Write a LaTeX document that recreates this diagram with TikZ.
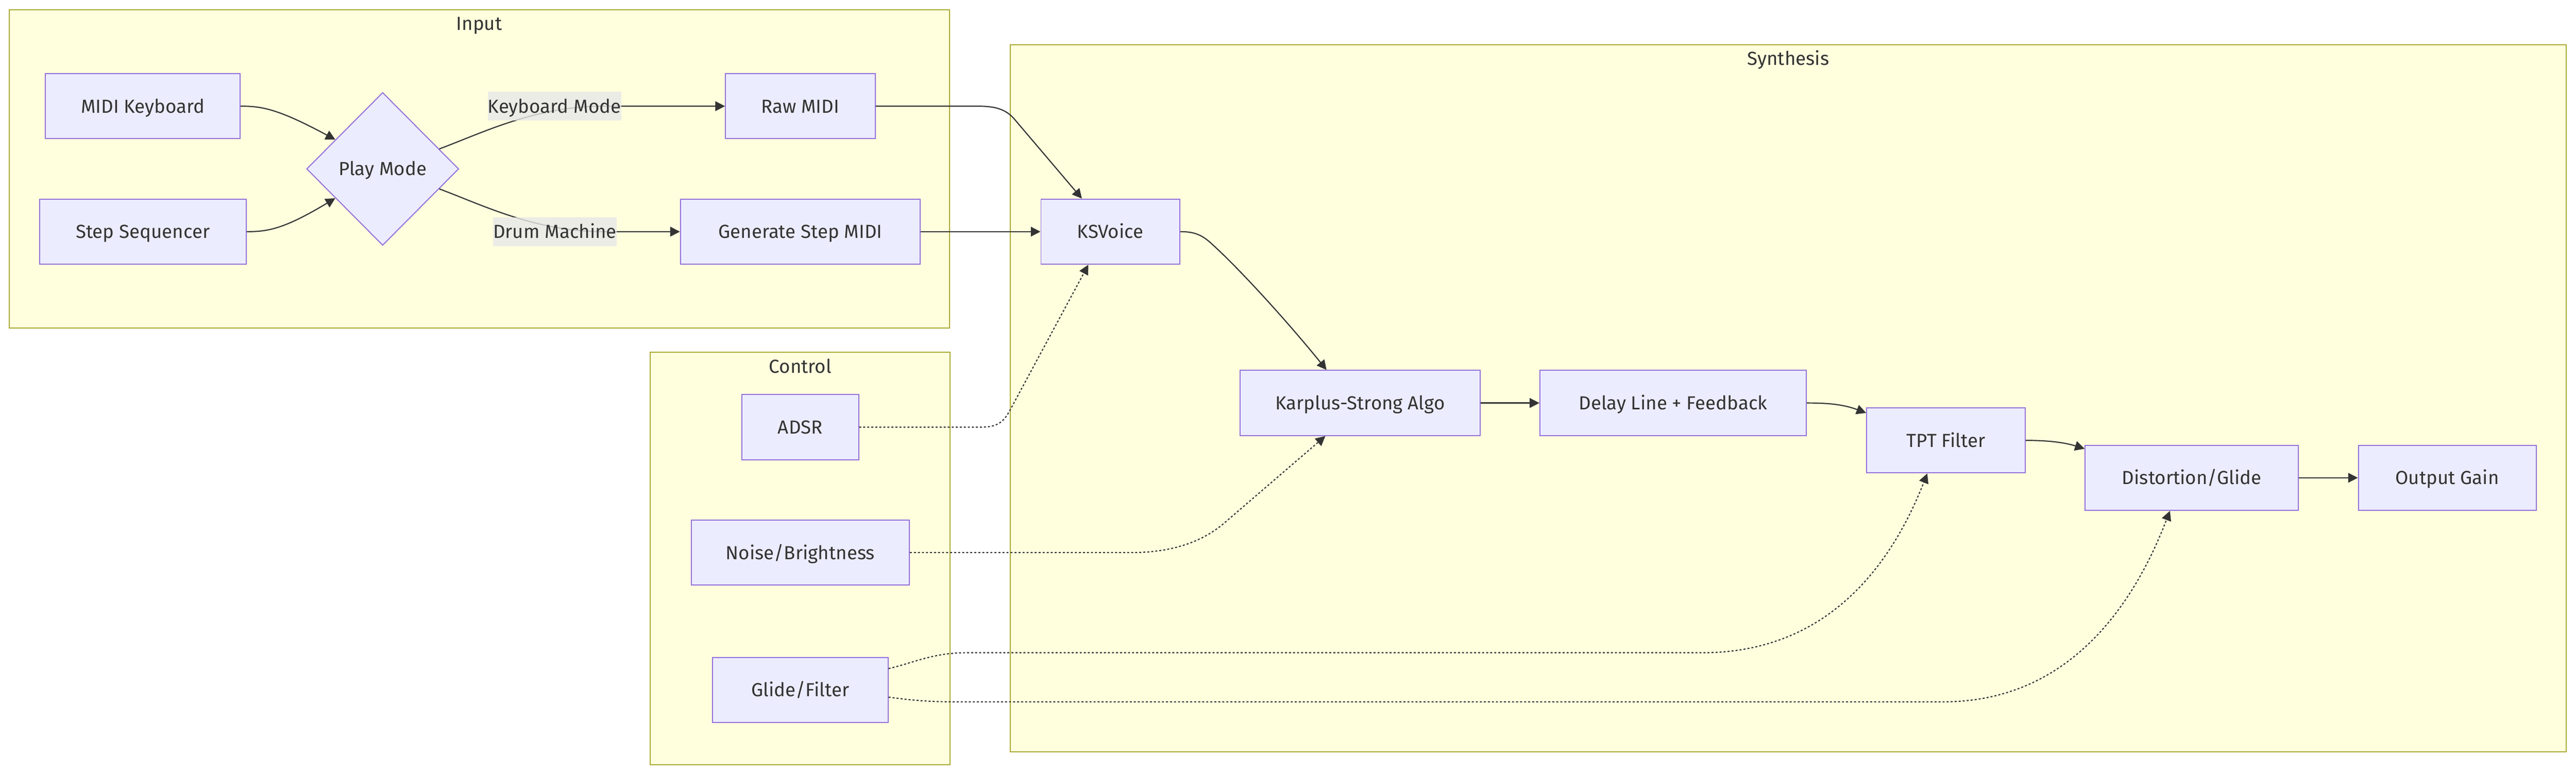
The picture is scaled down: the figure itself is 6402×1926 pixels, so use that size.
\documentclass[tikz,border=0pt]{standalone}
\usepackage{fontspec}
\setmainfont{Fira Sans}
\usetikzlibrary{shapes.geometric,arrows.meta,calc}
\definecolor{nodefill}{HTML}{ECECFF}
\definecolor{nodedraw}{HTML}{9370DB}
\definecolor{clfill}{HTML}{FFFFDE}
\definecolor{cldraw}{HTML}{AAAA33}
\definecolor{edgec}{HTML}{333333}
\definecolor{lblfill}{HTML}{E8E8E8}
\begin{document}
\begin{tikzpicture}[x=1pt,y=-1pt,
  every node/.style={font=\fontsize{47}{56}\selectfont, text=edgec},
  cluster/.style={draw=cldraw, fill=clfill, line width=2.5pt, inner sep=0pt},
  box/.style={draw=nodedraw, fill=nodefill, line width=2.5pt, minimum height=162pt, inner sep=0pt, text height=40pt, text depth=7pt},
  dec/.style={shape=diamond, draw=nodedraw, fill=nodefill, line width=2.5pt, minimum width=378pt, minimum height=380pt, inner sep=0pt, aspect=1, text height=40pt, text depth=7pt},
  lbl/.style={fill=lblfill, fill opacity=0.8, text opacity=1, inner sep=0pt, minimum height=71pt, text height=40pt, text depth=7pt},
  title/.style={anchor=base},
  flow/.style={draw=edgec, line width=2.8pt, -{Triangle[length=24pt,width=24pt]}},
  ctrl/.style={flow, line width=2.8pt, dash pattern=on 5pt off 5pt},
]
\useasboundingbox (0,0) rectangle (6402,1926);
\fill[white] (0,0) rectangle (6402,1926);

% clusters
\node[cluster, minimum width=2337pt, minimum height=792pt] (cin) at (1191.5,420) {};
\node[cluster, minimum width=745pt, minimum height=1025pt] (cctl) at (1988.5,1388.5) {};
\node[cluster, minimum width=3867pt, minimum height=1758pt] (csyn) at (4444.5,990) {};
\node[title] (tin) at (1191,75) {Input};
\node[title] (tctl) at (1989,928) {Control};
\node[title] (tsyn) at (4444,162) {Synthesis};

% input nodes
\node[box, minimum width=484pt] (mk) at (355,264) {MIDI Keyboard};
\node[box, minimum width=514pt] (ss) at (355,576) {Step Sequencer};
\node[dec] (pm) at (951,420) {Play Mode};
\node[box, minimum width=372pt] (rm) at (1989,264) {Raw MIDI};
\node[box, minimum width=596pt] (gs) at (1989,576) {Generate Step MIDI};

% control nodes
\node[box, minimum width=290pt] (adsr) at (1989,1062) {ADSR};
\node[box, minimum width=542pt] (nb) at (1989,1374) {Noise/Brightness};
\node[box, minimum width=436pt] (gf) at (1989,1715.5) {Glide/Filter};

% synthesis nodes
\node[box, minimum width=345pt] (ks) at (2759.5,576) {KSVoice};
\node[box, minimum width=596pt] (kp) at (3380,1002) {Karplus-Strong Algo};
\node[box, minimum width=662pt] (dl) at (4158,1002) {Delay Line + Feedback};
\node[box, minimum width=394pt] (tpt) at (4836,1095) {TPT Filter};
\node[box, minimum width=530pt] (dg) at (5447,1188) {Distortion/Glide};
\node[box, minimum width=442pt] (og) at (6082,1188) {Output Gain};

% diamond attachment points
\coordinate (pmA) at ($(pm.west)!0.381!(pm.north)$);
\coordinate (pmB) at ($(pm.west)!0.381!(pm.south)$);
\coordinate (pmC) at ($(pm.east)!0.26!(pm.north)$);
\coordinate (pmD) at ($(pm.east)!0.26!(pm.south)$);

% solid edges
\draw[flow] (mk.east) .. controls (650,264) and (690,270) .. (pmA);
\draw[flow] (ss.east) .. controls (665,576) and (705,570) .. (pmB);
\draw[flow] (pmC) .. controls (1200,330) and (1330,264) .. (1500,264) -- (rm.west);
\draw[flow] (pmD) .. controls (1200,510) and (1330,576) .. (1500,576) -- (gs.west);
\draw[flow] (rm.east) -- (2430,264) .. controls (2470,264) and (2498,270) .. (2520,295) -- ($(ks.north west)+(103,0)$);
\draw[flow] (gs.east) -- (ks.west);
\draw[flow] (ks.east) .. controls (2965,576) and (2985,582) .. (3010,605) .. controls (3080,668) and (3200,800) .. ($(kp.north west)+(216,0)$);
\draw[flow] (kp.east) -- (dl.west);
\draw[flow] (dl.east) .. controls (4540,1002) and (4580,1005) .. ($(tpt.north west)+(0,14)$);
\draw[flow] (tpt.east) .. controls (5090,1095) and (5130,1100) .. ($(dg.north west)+(0,10)$);
\draw[flow] (dg.east) -- (og.west);

% dotted control edges
\draw[ctrl] (adsr.east) -- (2440,1062) .. controls (2480,1062) and (2495,1048) .. (2510,1020) -- ($(ks.south west)+(119,0)$);
\draw[ctrl] (nb.east) -- (2810,1374) .. controls (2890,1374) and (2975,1358) .. (3042,1301) -- ($(kp.south west)+(213,0)$);
\draw[ctrl] ($(gf.east)+(0,-53)$) .. controls (2270,1648) and (2320,1623) .. (2400,1623) -- (4230,1623) .. controls (4560,1623) and (4710,1380) .. ($(tpt.south west)+(152,0)$);
\draw[ctrl] ($(gf.east)+(0,18)$) .. controls (2260,1740) and (2300,1745) .. (2370,1745) -- (4830,1745) .. controls (5160,1745) and (5314,1475) .. ($(dg.south west)+(212,0)$);

% edge labels
\node[lbl, minimum width=326pt] (lkm) at (1378,264) {Keyboard Mode};
\node[lbl, minimum width=303pt] (ldm) at (1379,576) {Drum Machine};
\end{tikzpicture}
\end{document}
